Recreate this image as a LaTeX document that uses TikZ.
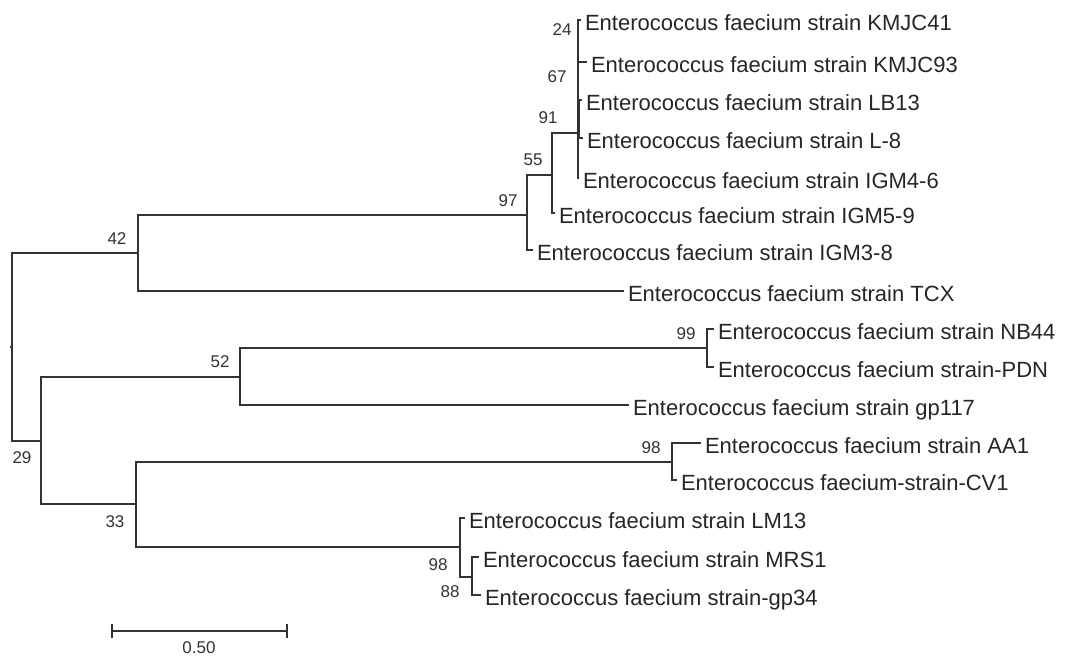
\documentclass[tikz,border=0pt]{standalone}
\usepackage{fontspec}
\setmainfont{Liberation Sans}
\begin{document}
\begin{tikzpicture}[x=1pt,y=-1pt,
  br/.style={draw=black!80, line width=1.3pt},
  leaf/.style={anchor=west, inner xsep=4pt, inner ysep=0pt, outer sep=0pt,
    text height=20pt, text depth=0pt, font=\fontsize{22}{24}\selectfont, text=black!85},
  bs/.style={font=\fontsize{17}{19}\selectfont, text=black!80, inner sep=0pt},
]
\useasboundingbox (0,0) rectangle (1078,656);
\fill[white] (0,0) rectangle (1078,656);

% internal nodes
\coordinate (root) at (12,347);
\coordinate (n42) at (138,253);
\coordinate (n97) at (527,215);
\coordinate (n55) at (552,175);
\coordinate (n91) at (578,133);
\coordinate (n67) at (578,80);
\coordinate (n24) at (578,41);
\coordinate (nLB) at (579.5,119);
\coordinate (n29) at (41,441);
\coordinate (n52) at (240,377);
\coordinate (n99) at (707,348);
\coordinate (n33) at (136,504);
\coordinate (n98a) at (672,462);
\coordinate (n98b) at (460,547);
\coordinate (n88) at (472,577);

% leaves
\node[leaf] (kmjc41) at (581,20) {Enterococcus faecium strain KMJC41};
\node[leaf] (kmjc93) at (587,62) {Enterococcus faecium strain KMJC93};
\node[leaf] (lb13) at (582,100) {Enterococcus faecium strain LB13};
\node[leaf] (l8) at (583,138) {Enterococcus faecium strain L-8};
\node[leaf] (igm46) at (579,178) {Enterococcus faecium strain IGM4-6};
\node[leaf] (igm59) at (555,213) {Enterococcus faecium strain IGM5-9};
\node[leaf] (igm38) at (533,250) {Enterococcus faecium strain IGM3-8};
\node[leaf] (tcx) at (624,291) {Enterococcus faecium strain TCX};
\node[leaf] (nb44) at (714,329) {Enterococcus faecium strain NB44};
\node[leaf] (pdn) at (714,367) {Enterococcus faecium strain-PDN};
\node[leaf] (gp117) at (629,405) {Enterococcus faecium strain gp117};
\node[leaf] (aa1) at (701,443) {Enterococcus faecium strain AA1};
\node[leaf] (cv1) at (677,480) {Enterococcus faecium-strain-CV1};
\node[leaf] (lm13) at (465,518) {Enterococcus faecium strain LM13};
\node[leaf] (mrs1) at (479,557) {Enterococcus faecium strain MRS1};
\node[leaf] (gp34) at (481,595) {Enterococcus faecium strain-gp34};

% branches
\draw[br] (root) -- ++(-2,0);
\draw[br] (root) |- (n42);
\draw[br] (root) |- (n29);
\draw[br] (n42) |- (n97);
\draw[br] (n42) |- (tcx.west);
\draw[br] (n97) |- (n55);
\draw[br] (n97) |- (igm38.west);
\draw[br] (n55) |- (n91);
\draw[br] (n55) |- (igm59.west);
\draw[br] (n91) |- (n67);
\draw[br] (n91) |- (igm46.west);
\draw[br] (n67) |- (n24);
\draw[br] (n67) |- (nLB);
\draw[br] (n24) |- (kmjc41.west);
\draw[br] (n24) |- (kmjc93.west);
\draw[br] (nLB) |- (lb13.west);
\draw[br] (nLB) |- (l8.west);
\draw[br] (n29) |- (n52);
\draw[br] (n29) |- (n33);
\draw[br] (n52) |- (n99);
\draw[br] (n52) |- (gp117.west);
\draw[br] (n99) |- (nb44.west);
\draw[br] (n99) |- (pdn.west);
\draw[br] (n33) |- (n98a);
\draw[br] (n33) |- (n98b);
\draw[br] (n98a) |- (aa1.west);
\draw[br] (n98a) |- (cv1.west);
\draw[br] (n98b) |- (lm13.west);
\draw[br] (n98b) |- (n88);
\draw[br] (n88) |- (mrs1.west);
\draw[br] (n88) |- (gp34.west);

% bootstrap values
\node[bs] (b24) at (562,30) {24};
\node[bs] (b67) at (557,77) {67};
\node[bs] (b91) at (548,118) {91};
\node[bs] (b55) at (533,160) {55};
\node[bs] (b97) at (508,201) {97};
\node[bs] (b42) at (117,239) {42};
\node[bs] (b52) at (220,362) {52};
\node[bs] (b29) at (22,458) {29};
\node[bs] (b33) at (115,522) {33};
\node[bs] (b99) at (686,334) {99};
\node[bs] (b98a) at (651,448) {98};
\node[bs] (b98b) at (438,565) {98};
\node[bs] (b88) at (450,592) {88};

% scale bar
\coordinate (sb1) at (112,631);
\coordinate (sb2) at (287,631);
\draw[br] (sb1) -- (sb2);
\draw[br] ([yshift=-7pt]sb1) -- ([yshift=7pt]sb1);
\draw[br] ([yshift=-7pt]sb2) -- ([yshift=7pt]sb2);
\node[font=\fontsize{17}{19}\selectfont, text=black!80, inner sep=0pt] (sblab) at (199,648) {0.50};
\end{tikzpicture}
\end{document}
